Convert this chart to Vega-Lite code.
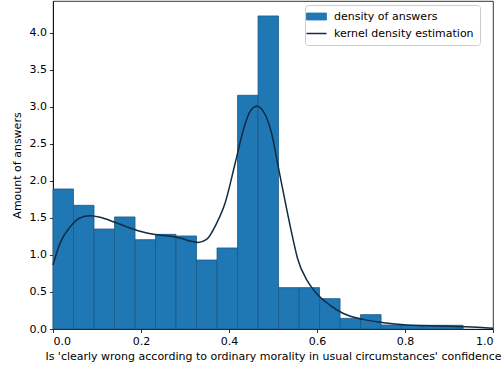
{
  "$schema": "https://vega.github.io/schema/vega-lite/v6.json",
  "width": 440,
  "height": 328,
  "autosize": "none",
  "padding": {"left": 53, "top": 1, "right": 8, "bottom": 41},
  "config": {
    "font": "DejaVu Sans",
    "view": {"stroke": "black", "strokeWidth": 0.8},
    "axis": {
      "grid": false,
      "domainColor": "black",
      "domainWidth": 0.8,
      "tickColor": "black",
      "tickWidth": 0.8,
      "tickSize": 3.5,
      "labelFont": "DejaVu Sans",
      "labelFontSize": 11,
      "labelColor": "black",
      "labelPadding": 3,
      "titleFont": "DejaVu Sans",
      "titleFontSize": 11,
      "titleFontWeight": "normal",
      "titleColor": "black"
    },
    "legend": {
      "title": null,
      "symbolSize": 400,
      "labelFont": "DejaVu Sans",
      "labelFontSize": 11,
      "labelColor": "black",
      "labelOffset": 12,
      "fillColor": "rgba(255,255,255,0.8)",
      "strokeColor": "#cccccc",
      "strokeWidth": 1,
      "cornerRadius": 3,
      "padding": 6,
      "rowPadding": 5
    }
  },
  "datasets": {
    "hist": [
      {"bin_start": 0.0, "bin_end": 0.0466, "density": 1.892},
      {"bin_start": 0.0466, "bin_end": 0.0932, "density": 1.671},
      {"bin_start": 0.0932, "bin_end": 0.1398, "density": 1.351},
      {"bin_start": 0.1398, "bin_end": 0.1864, "density": 1.514},
      {"bin_start": 0.1864, "bin_end": 0.233, "density": 1.207},
      {"bin_start": 0.233, "bin_end": 0.2796, "density": 1.279},
      {"bin_start": 0.2796, "bin_end": 0.3262, "density": 1.257},
      {"bin_start": 0.3262, "bin_end": 0.3728, "density": 0.932},
      {"bin_start": 0.3728, "bin_end": 0.4194, "density": 1.095},
      {"bin_start": 0.4194, "bin_end": 0.466, "density": 3.158},
      {"bin_start": 0.466, "bin_end": 0.5126, "density": 4.23},
      {"bin_start": 0.5126, "bin_end": 0.5592, "density": 0.559},
      {"bin_start": 0.5592, "bin_end": 0.6058, "density": 0.559},
      {"bin_start": 0.6058, "bin_end": 0.6524, "density": 0.41},
      {"bin_start": 0.6524, "bin_end": 0.699, "density": 0.144},
      {"bin_start": 0.699, "bin_end": 0.7456, "density": 0.194},
      {"bin_start": 0.7456, "bin_end": 0.7922, "density": 0.054},
      {"bin_start": 0.7922, "bin_end": 0.8388, "density": 0.05},
      {"bin_start": 0.8388, "bin_end": 0.8854, "density": 0.05},
      {"bin_start": 0.8854, "bin_end": 0.932, "density": 0.05}
    ],
    "kde": [
      {"x": 0.0, "y": 0.865},
      {"x": 0.016, "y": 1.16},
      {"x": 0.039, "y": 1.38},
      {"x": 0.061, "y": 1.5},
      {"x": 0.084, "y": 1.53},
      {"x": 0.107, "y": 1.51},
      {"x": 0.137, "y": 1.45},
      {"x": 0.168, "y": 1.38},
      {"x": 0.198, "y": 1.32},
      {"x": 0.228, "y": 1.28},
      {"x": 0.258, "y": 1.26},
      {"x": 0.289, "y": 1.23},
      {"x": 0.311, "y": 1.19},
      {"x": 0.33, "y": 1.17},
      {"x": 0.349, "y": 1.21},
      {"x": 0.372, "y": 1.43},
      {"x": 0.391, "y": 1.7},
      {"x": 0.414, "y": 2.24},
      {"x": 0.4325, "y": 2.69},
      {"x": 0.448, "y": 2.94},
      {"x": 0.463, "y": 3.01},
      {"x": 0.478, "y": 2.94},
      {"x": 0.497, "y": 2.64},
      {"x": 0.512, "y": 2.19},
      {"x": 0.527, "y": 1.74},
      {"x": 0.546, "y": 1.2},
      {"x": 0.556, "y": 0.95},
      {"x": 0.577, "y": 0.66},
      {"x": 0.599, "y": 0.48},
      {"x": 0.63, "y": 0.32},
      {"x": 0.66, "y": 0.21},
      {"x": 0.705, "y": 0.13},
      {"x": 0.751, "y": 0.085},
      {"x": 0.804, "y": 0.054},
      {"x": 0.88, "y": 0.04},
      {"x": 0.94, "y": 0.03},
      {"x": 1.0, "y": 0.01}
    ]
  },
  "layer": [
    {
      "data": {"name": "hist"},
      "mark": {"type": "bar", "stroke": "#1b5a86", "strokeWidth": 0.8, "opacity": 1},
      "encoding": {
        "x": {
          "field": "bin_start",
          "type": "quantitative",
          "scale": {"domain": [0, 1], "nice": false, "zero": false},
          "axis": {"values": [0, 0.2, 0.4, 0.6, 0.8, 1.0], "format": ".1f", "title": "Is 'clearly wrong according to ordinary morality in usual circumstances' confidence", "titlePadding": 4}
        },
        "x2": {"field": "bin_end"},
        "y": {
          "field": "density",
          "type": "quantitative",
          "scale": {"domain": [0, 4.432], "nice": false},
          "axis": {"values": [0, 0.5, 1, 1.5, 2, 2.5, 3, 3.5, 4], "format": ".1f", "title": "Amount of answers", "titlePadding": 7}
        },
        "y2": {"datum": 0},
        "color": {
          "datum": "density of answers",
          "type": "nominal",
          "scale": {"domain": ["density of answers", "kernel density estimation"], "range": ["#1f77b4", "#112b40"]},
          "legend": {
            "orient": "none",
            "legendX": 252,
            "legendY": 4,
            "strokeColor": "#cccccc",
            "fillColor": "rgba(255,255,255,0.8)",
            "encode": {
              "symbols": {
                "update": {
                  "shape": {"signal": "datum.value == 'density of answers' ? 'M-1,-0.35L1,-0.35L1,0.35L-1,0.35Z' : 'stroke'"},
                  "fill": {"signal": "datum.value == 'density of answers' ? '#1f77b4' : 'transparent'"},
                  "stroke": {"signal": "datum.value == 'density of answers' ? '#1b5a86' : '#112b40'"},
                  "strokeWidth": {"signal": "datum.value == 'density of answers' ? 0.8 : 1.5"},
                  "opacity": {"value": 1}
                }
              },
              "legend": {
                "update": {
                  "stroke": {"value": "#cccccc"},
                  "strokeWidth": {"value": 1},
                  "fill": {"value": "rgba(255,255,255,0.8)"}
                }
              }
            }
          }
        }
      }
    },
    {
      "data": {"name": "kde"},
      "mark": {"type": "line", "strokeWidth": 1.5, "interpolate": "monotone"},
      "encoding": {
        "x": {"field": "x", "type": "quantitative"},
        "y": {"field": "y", "type": "quantitative"},
        "color": {
          "datum": "kernel density estimation",
          "type": "nominal",
          "legend": {
            "orient": "none",
            "legendX": 252,
            "legendY": 4,
            "strokeColor": "#cccccc",
            "fillColor": "rgba(255,255,255,0.8)",
            "encode": {
              "symbols": {
                "update": {
                  "shape": {"signal": "datum.value == 'density of answers' ? 'M-1,-0.35L1,-0.35L1,0.35L-1,0.35Z' : 'stroke'"},
                  "fill": {"signal": "datum.value == 'density of answers' ? '#1f77b4' : 'transparent'"},
                  "stroke": {"signal": "datum.value == 'density of answers' ? '#1b5a86' : '#112b40'"},
                  "strokeWidth": {"signal": "datum.value == 'density of answers' ? 0.8 : 1.5"},
                  "opacity": {"value": 1}
                }
              },
              "legend": {
                "update": {
                  "stroke": {"value": "#cccccc"},
                  "strokeWidth": {"value": 1},
                  "fill": {"value": "rgba(255,255,255,0.8)"}
                }
              }
            }
          }
        }
      }
    }
  ]
}
